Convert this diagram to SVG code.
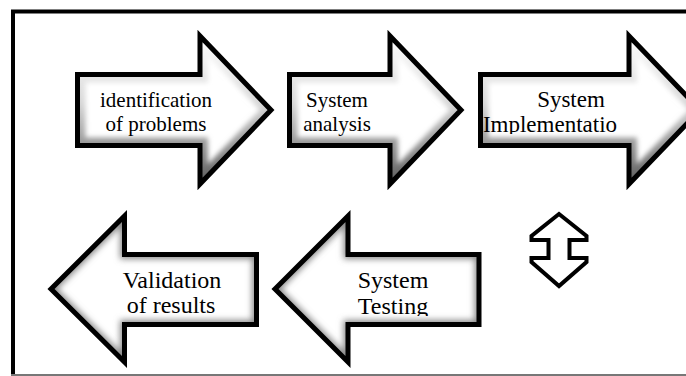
<svg xmlns="http://www.w3.org/2000/svg" xmlns:xlink="http://www.w3.org/1999/xlink" width="686" height="376" viewBox="0 0 686 376">
<style>
.fill{fill:#fff;stroke:none}
.outline{fill:none;stroke:#000;stroke-width:5;stroke-linejoin:miter;stroke-miterlimit:10}
.bevel{fill:none;stroke:url(#bev);stroke-width:16}
.inshadow{fill:none;stroke:#8a8a8a;stroke-width:9}
.t{font-family:"Liberation Serif","Times New Roman",serif;fill:#000;text-anchor:middle}
.s21{font-size:21px}
.s23{font-size:23px}
.s24{font-size:24px}
</style>
<defs>
<linearGradient id="bev" x1="0" y1="0" x2="0" y2="1">
<stop offset="0" stop-color="#ffffff"/>
<stop offset="0.45" stop-color="#d8d8d8"/>
<stop offset="1" stop-color="#5a5a5a"/>
</linearGradient>
<filter id="blur" x="-10%" y="-10%" width="120%" height="120%"><feGaussianBlur stdDeviation="2.5"/></filter>
<filter id="blur2" x="-10%" y="-10%" width="120%" height="120%"><feGaussianBlur stdDeviation="3"/></filter>
<path id="a1" d="M77.5,74.5 H200 V36 L271,110 L200,184 V145.5 H77.5 Z"/>
<path id="a2" d="M289.5,74.5 H390 V36 L461,110 L390,184 V145.5 H289.5 Z"/>
<path id="a3" d="M480.5,74.5 H629 V36 L700,110 L629,184 V145.5 H480.5 Z"/>
<path id="a4" d="M51,289 L124.5,216 V254.5 H256.5 V324.5 H124.5 V362 Z"/>
<path id="a5" d="M275,289 L348,216 V254.5 H479 V324.5 H348 V362 Z"/>
<clipPath id="c1"><use xlink:href="#a1"/></clipPath>
<clipPath id="c2"><use xlink:href="#a2"/></clipPath>
<clipPath id="c3"><use xlink:href="#a3"/></clipPath>
<clipPath id="c4"><use xlink:href="#a4"/></clipPath>
<clipPath id="c5"><use xlink:href="#a5"/></clipPath>
<clipPath id="tc3"><rect x="470" y="60" width="216" height="74"/></clipPath>
<clipPath id="tc5"><rect x="330" y="250" width="140" height="66"/></clipPath>
</defs>

<g id="frame">
<path d="M13,376 V11.5 H686" fill="none" stroke="#000" stroke-width="4"/>
<line x1="11" y1="375" x2="686" y2="375" stroke="#777" stroke-width="2"/>
</g>

<g id="node-identification">
<use xlink:href="#a1" class="fill"/>
<g clip-path="url(#c1)"><use xlink:href="#a1" class="bevel" filter="url(#blur)"/></g>
<use xlink:href="#a1" class="outline"/>
<text class="t s21" x="156" y="107">identification</text>
<text class="t s21" x="156" y="131">of problems</text>
</g>

<g id="node-analysis">
<use xlink:href="#a2" class="fill"/>
<g clip-path="url(#c2)"><use xlink:href="#a2" class="bevel" filter="url(#blur)"/></g>
<use xlink:href="#a2" class="outline"/>
<text class="t s21" x="337" y="107">System</text>
<text class="t s21" x="337" y="131">analysis</text>
</g>

<g id="node-implementation">
<use xlink:href="#a3" class="fill"/>
<g clip-path="url(#c3)"><use xlink:href="#a3" class="bevel" filter="url(#blur)"/></g>
<use xlink:href="#a3" class="outline"/>
<g clip-path="url(#tc3)">
<text class="t s23" x="571" y="107">System</text>
<text class="t s23" x="550" y="132">Implementatio</text>
</g>
</g>

<g id="node-testing">
<use xlink:href="#a5" class="fill"/>
<g clip-path="url(#c5)"><use xlink:href="#a5" class="inshadow" filter="url(#blur2)"/></g>
<use xlink:href="#a5" class="outline"/>
<g clip-path="url(#tc5)">
<text class="t s24" x="393" y="288">System</text>
<text class="t s24" x="393" y="314">Testing</text>
</g>
</g>

<g id="node-validation">
<use xlink:href="#a4" class="fill"/>
<g clip-path="url(#c4)"><use xlink:href="#a4" class="inshadow" filter="url(#blur2)"/></g>
<use xlink:href="#a4" class="outline"/>
<text class="t s24" x="172" y="288">Validation</text>
<text class="t s24" x="171" y="313">of results</text>
</g>

<g id="connectors">
<path d="M559,214 L531.5,236 V240 H548.5 V258 H531.5 V262 L559,286 L586.5,262 V258 H569.5 V240 H586.5 V236 Z" fill="#fff" stroke="#000" stroke-width="4" stroke-linejoin="miter"/>
</g>
</svg>
